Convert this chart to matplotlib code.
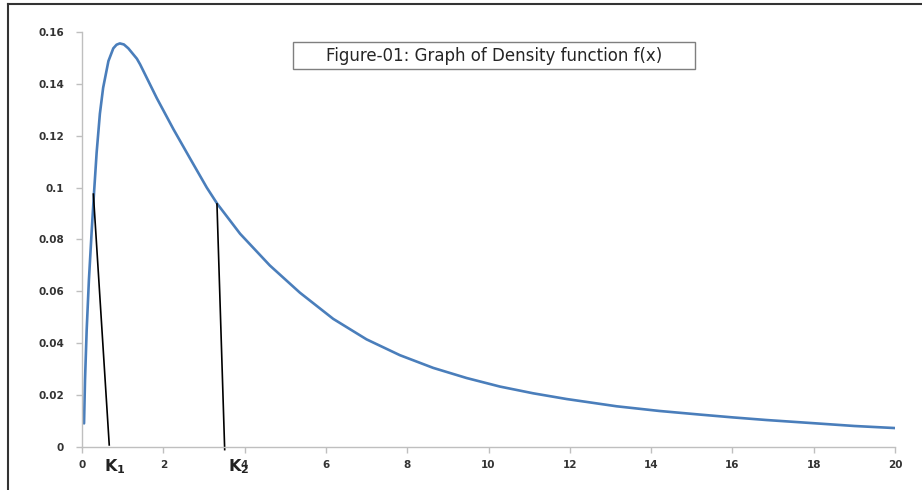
import matplotlib
matplotlib.use("Agg")
from matplotlib import pyplot as plt
from matplotlib.lines import Line2D
from matplotlib.patches import Rectangle

# density curve
x_vals = [0.05, 0.074, 0.115, 0.17, 0.24, 0.295, 0.36, 0.44, 0.52, 0.65, 0.77,
          0.85, 0.93, 1.03, 1.14, 1.35, 1.43, 1.84, 2.25, 2.66, 3.07, 3.33,
          3.89, 4.62, 5.36, 6.18, 7.0, 7.82, 8.64, 9.46, 10.28, 11.1, 11.92,
          13.15, 14.2, 15.2, 16.02, 16.84, 18.07, 19.0, 20.0]
f_vals = [0.0091, 0.0258, 0.0451, 0.0644, 0.0837, 0.0978, 0.1135, 0.1285,
          0.1385, 0.1488, 0.1537, 0.1551, 0.1556, 0.1552, 0.1537, 0.1497,
          0.1475, 0.1345, 0.1225, 0.1112, 0.1000, 0.0937, 0.0822, 0.0700,
          0.0595, 0.0494, 0.0415, 0.0354, 0.0305, 0.0266, 0.0233, 0.0207,
          0.0185, 0.0157, 0.0139, 0.0125, 0.0114, 0.0104, 0.0091, 0.0081,
          0.0073]

# the two drop lines K1 and K2 (top point, bottom point)
k1_x = [0.28, 0.67]
k1_y = [0.0975, 0.0008]
k2_x = [3.32, 3.51]
k2_y = [0.0937, -0.001]

x_ticks = [0, 2, 4, 6, 8, 10, 12, 14, 16, 18, 20]
y_ticks = [0, 0.02, 0.04, 0.06, 0.08, 0.1, 0.12, 0.14, 0.16]
y_labels = ['0', '0.02', '0.04', '0.06', '0.08', '0.1', '0.12', '0.14', '0.16']

fig = plt.figure(figsize=(9.22, 4.90), dpi=100)
ax = fig.add_axes([82 / 922, 1 - 447 / 490, (895 - 82) / 922, (447 - 32) / 490])

ax.plot(x_vals, f_vals, color='#4A7EBB', lw=1.9, solid_capstyle='round',
        solid_joinstyle='round')
ax.plot(k1_x, k1_y, color='black', lw=1.2, clip_on=False)
ax.plot(k2_x, k2_y, color='black', lw=1.2, clip_on=False)

ax.set_xlim(0, 20)
ax.set_ylim(0, 0.16)
ax.set_xticks(x_ticks)
ax.set_xticklabels([str(t) for t in x_ticks])
ax.set_yticks(y_ticks)
ax.set_yticklabels(y_labels)

for side in ['top', 'right']:
    ax.spines[side].set_visible(False)
for side in ['left', 'bottom']:
    ax.spines[side].set_color('#BFBFBF')
    ax.spines[side].set_linewidth(1.0)
ax.tick_params(axis='both', direction='out', length=4, width=1.0,
               color='#BFBFBF', labelsize=7.5, labelcolor='#333333')
ax.tick_params(axis='y', pad=9)
ax.tick_params(axis='x', pad=5)
for lab in ax.get_xticklabels() + ax.get_yticklabels():
    lab.set_fontweight('bold')

ax.text(0.55, -0.0075, 'K$_\\mathbf{1}$', fontsize=11.5, fontweight='bold',
        color='#222222', va='center', ha='left', clip_on=False)
ax.text(3.58, -0.0075, 'K$_\\mathbf{2}$', fontsize=11.5, fontweight='bold',
        color='#222222', va='center', ha='left', clip_on=False)

# title box
fig.add_artist(Rectangle((293 / 922, 1 - 69 / 490), (695 - 293) / 922, 27 / 490,
                         transform=fig.transFigure, fc='white', ec='#7F7F7F', lw=1.0))
fig.text(494 / 922, 1 - 56 / 490, 'Figure-01: Graph of Density function f(x)',
         fontsize=12, family='DejaVu Sans', color='#262626', ha='center', va='center')

# screenshot frame on top and left
fig.add_artist(Line2D([8 / 922, 1], [1 - 4 / 490, 1 - 4 / 490],
                      transform=fig.transFigure, color='#333333', lw=1.5))
fig.add_artist(Line2D([8 / 922, 8 / 922], [0, 1 - 4 / 490],
                      transform=fig.transFigure, color='#333333', lw=1.5))

fig.savefig('out.png', dpi=100)
